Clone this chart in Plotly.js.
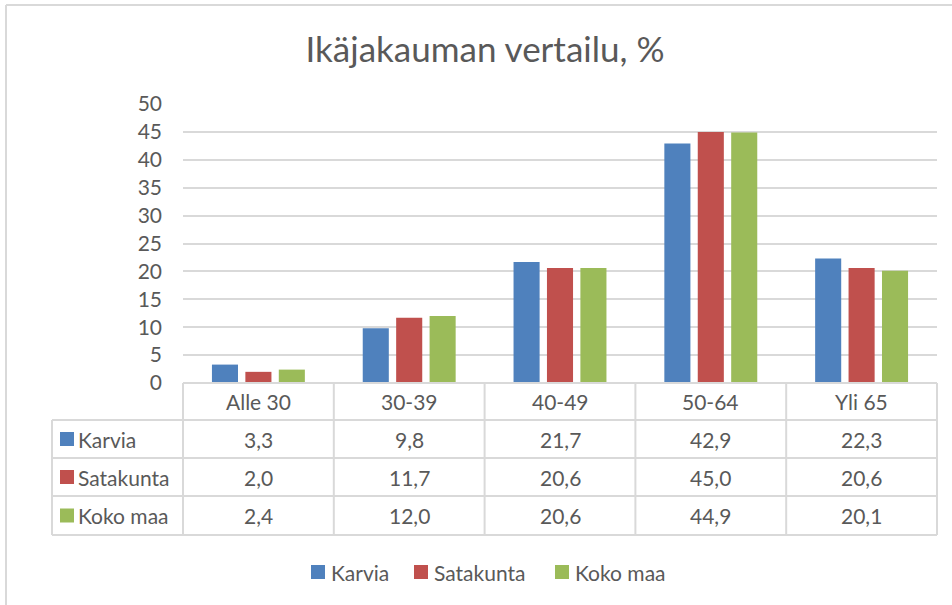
<!DOCTYPE html>
<html>
<head>
<meta charset="utf-8">
<script src="https://cdn.plot.ly/plotly-3.0.1.min.js"></script>
<style>body{margin:0;padding:0;background:#fff}#chart{width:952px;height:605px}</style>
</head>
<body>
<div id="chart"></div>
<script>
const categories = ["Alle 30", "30-39", "40-49", "50-64", "Yli 65"];
const seriesNames = ["Karvia", "Satakunta", "Koko maa"];
const karvia = [3.3, 9.8, 21.7, 42.9, 22.3];
const satakunta = [2.0, 11.7, 20.6, 45.0, 20.6];
const kokoMaa = [2.4, 12.0, 20.6, 44.9, 20.1];
const colors = ["#4F81BD", "#C0504D", "#9BBB59"];
const yTicks = [0, 5, 10, 15, 20, 25, 30, 35, 40, 45, 50];

const W = 952, H = 605;
const M = {l: 183, r: 15, t: 104, b: 222};
const PW = W - M.l - M.r, PH = H - M.t - M.b;
const FONT = "Lato, 'Open Sans', sans-serif";
const TXT = "#595959";
const GRID = "#d9d9d9";
const FS = 21;

const allSeries = [karvia, satakunta, kokoMaa];
const traces = allSeries.map((vals, i) => ({
  type: "bar",
  name: seriesNames[i],
  x: categories,
  y: vals,
  marker: {color: colors[i]},
  hoverinfo: "y+name"
}));

// pixel -> paper helpers
const px = p => (p - M.l) / PW;
const py = p => (H - M.b - p) / PH;

const tableLeft = 52;
const rowEdges = [383, 420, 458, 496, 535];
const shapes = [];
const annotations = [];
const n = categories.length;

shapes.push({type: "line", xref: "paper", yref: "paper", x0: 0, x1: 1, y0: py(rowEdges[0]), y1: py(rowEdges[0]), line: {color: GRID, width: 2}});
for (let r = 1; r < rowEdges.length; r++) {
  shapes.push({type: "line", xref: "paper", yref: "paper", x0: px(tableLeft), x1: 1, y0: py(rowEdges[r]), y1: py(rowEdges[r]), line: {color: GRID, width: 2}});
}
for (let c = 0; c <= n; c++) {
  shapes.push({type: "line", xref: "paper", yref: "paper", x0: c / n, x1: c / n, y0: py(rowEdges[0]), y1: py(rowEdges[rowEdges.length - 1]), line: {color: GRID, width: 2}});
}
shapes.push({type: "line", xref: "paper", yref: "paper", x0: px(tableLeft), x1: px(tableLeft), y0: py(rowEdges[1]), y1: py(rowEdges[rowEdges.length - 1]), line: {color: GRID, width: 2}});

// chart border (top & left visible)
shapes.push({type: "line", xref: "paper", yref: "paper", x0: px(6), x1: px(W), y0: py(5), y1: py(5), line: {color: GRID, width: 2}});
shapes.push({type: "line", xref: "paper", yref: "paper", x0: px(6), x1: px(6), y0: py(5), y1: py(H), line: {color: GRID, width: 2}});

categories.forEach((c, i) => {
  annotations.push({xref: "paper", yref: "paper", x: (i + 0.5) / n, y: py((rowEdges[0] + rowEdges[1]) / 2),
    text: c, showarrow: false, xanchor: "center", yanchor: "middle", font: {family: FONT, size: FS, color: TXT}});
});
allSeries.forEach((vals, r) => {
  const yc = py((rowEdges[r + 1] + rowEdges[r + 2]) / 2);
  shapes.push({type: "rect", xref: "paper", yref: "paper", x0: px(60), x1: px(74),
    y0: yc - 7 / PH, y1: yc + 7 / PH, fillcolor: colors[r], line: {width: 0}});
  annotations.push({xref: "paper", yref: "paper", x: px(76), y: yc, text: seriesNames[r], showarrow: false,
    xanchor: "left", yanchor: "middle", font: {family: FONT, size: FS, color: TXT}});
  vals.forEach((v, i) => {
    annotations.push({xref: "paper", yref: "paper", x: (i + 0.5) / n, y: yc, text: v.toFixed(1).replace(".", ","),
      showarrow: false, xanchor: "center", yanchor: "middle", font: {family: FONT, size: FS, color: TXT}});
  });
});

// legend (bottom, drawn from seriesNames/colors)
const legendStarts = [311, 414, 555];
const legendY = py(572);
seriesNames.forEach((name, i) => {
  shapes.push({type: "rect", xref: "paper", yref: "paper", x0: px(legendStarts[i]), x1: px(legendStarts[i] + 14),
    y0: legendY - 7 / PH, y1: legendY + 7 / PH, fillcolor: colors[i], line: {width: 0}});
  annotations.push({xref: "paper", yref: "paper", x: px(legendStarts[i] + 18), y: legendY, text: name, showarrow: false,
    xanchor: "left", yanchor: "middle", font: {family: FONT, size: FS, color: TXT}});
});

const layout = {
  width: W, height: H,
  margin: M,
  paper_bgcolor: "#ffffff",
  plot_bgcolor: "#ffffff",
  font: {family: FONT, color: TXT},
  title: {text: "Ikäjakauman vertailu, %", font: {family: FONT, size: 35, color: TXT},
    xref: "container", x: 485 / W, xanchor: "center", yref: "container", y: 1 - 50 / H, yanchor: "middle"},
  barmode: "group",
  bargap: 0.335,
  bargroupgap: 0.22,
  xaxis: {showticklabels: false, showgrid: false, zeroline: false, showline: false, ticks: "", fixedrange: true},
  yaxis: {range: [0, 50], tickvals: yTicks, ticktext: yTicks.map(String), showgrid: true, gridcolor: GRID, gridwidth: 2,
    zeroline: false, showline: false, ticks: "", ticklabelstandoff: 20,
    tickfont: {family: FONT, size: FS, color: TXT}, fixedrange: true},
  showlegend: false,
  shapes: shapes,
  annotations: annotations
};

Plotly.newPlot("chart", traces, layout, {displayModeBar: false, staticPlot: true});
</script>
</body>
</html>
